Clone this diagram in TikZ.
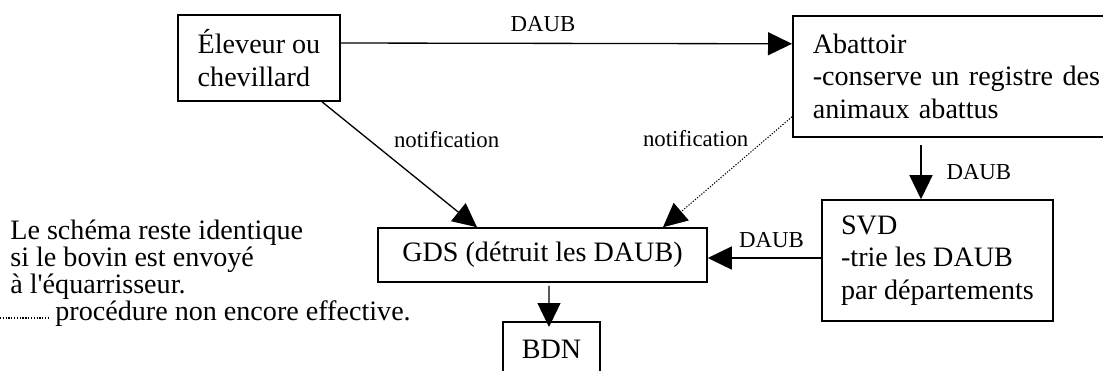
\documentclass[tikz,border=0pt]{standalone}
\usepackage{fontspec}
\setmainfont{Liberation Serif}
\usetikzlibrary{arrows.meta, positioning, calc}

\begin{document}
\begin{tikzpicture}[x=0.02cm, y=-0.02cm,
    box/.style={draw, line width=0.9pt, align=left, font=\fontsize{16}{18.5}\selectfont},
    flow/.style={line width=0.75pt, -{Triangle[length=0.48cm, width=0.46cm]}},
    tag/.style={font=\fontsize{13}{15}\selectfont},
    pending/.style={flow, line width=0.6pt, dash pattern=on 0.7pt off 0.9pt},
    note/.style={font=\fontsize{16}{15.3}\selectfont, align=left, inner sep=0pt}]
  \path[use as bounding box] (0,0) rectangle (1103,370);
  \clip (0,0) rectangle (1103,370);

  % boxes
  \node[box, minimum width=3.24cm, minimum height=1.72cm] (elev) at (259,58) {Éleveur ou\\chevillard};
  \node[box, anchor=north west, text width=5.96cm, inner xsep=0.4cm, minimum height=2.42cm] (abat) at (792,15) {Abattoir\\-conserve un registre des\\animaux abattus};
  \node[box, minimum width=4.62cm, minimum height=2.42cm] (svd) at (937.5,260.5) {SVD\\-trie les DAUB\\par départements};
  \node[box, minimum width=6.58cm, minimum height=1.08cm] (gds) at (542.5,255) {GDS (détruit les DAUB)};
  \node[box, anchor=north, minimum width=1.94cm, minimum height=1.12cm] (bdn) at (551.5,321) {BDN};

  % flows
  \draw[flow] ([shift={(0,-15)}]elev.east) -- ([shift={(0,-32.5)}]abat.west) node[tag, midway, above=0.1cm, xshift=-0.47cm] {DAUB};
  \draw[flow] ([shift={(63,0)}]elev.south) -- ([shift={(-65.5,0)}]gds.north) node[tag, pos=0.3, right=0.38cm] {notification};
  \draw[pending] ([shift={(0,40.5)}]abat.west) -- ([shift={(120.5,0)}]gds.north) node[tag, pos=0.2, left=0.23cm] {notification};
  \draw[flow] ($(svd.north |- abat.south)+(-16.5,7)$) -- ([shift={(-16.5,0)}]svd.north) node[tag, midway, right=0.38cm] {DAUB};
  \draw[flow] ([shift={(0,-2.5)}]svd.west) -- ([shift={(0,3)}]gds.east) node[tag, midway, above=0.07cm, xshift=0.14cm] {DAUB};
  \draw[flow] ([shift={(6.5,3)}]gds.south) -- ([shift={(-2.5,6)}]bdn.north);

  % remarks
  \node[note, anchor=north west] (remark) at (10,219.5) {Le schéma reste identique\\si le bovin est envoyé\\à l\textquotesingle équarrisseur.};
  \node[note, anchor=base west] (legend) at (55,320) {procédure non encore effective.};
  \draw[pending, -] ([shift={(-55,-2)}]legend.base west) -- ([shift={(-7,-2)}]legend.base west);
\end{tikzpicture}
\end{document}
